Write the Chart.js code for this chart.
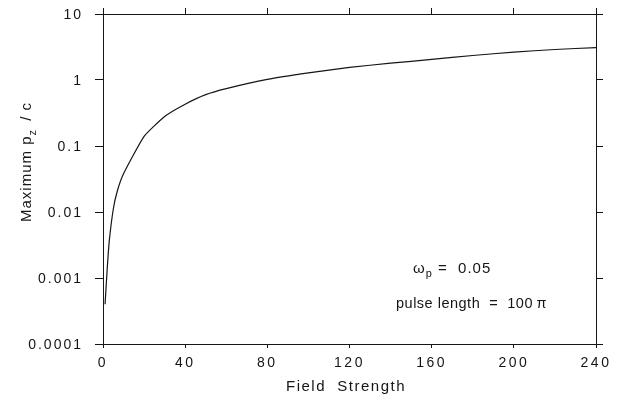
<!DOCTYPE html>
<html>
<head>
<meta charset="utf-8">
<script src="https://cdn.jsdelivr.net/npm/chart.js@4.4.1/dist/chart.umd.min.js"></script>
<style>
  html, body { margin: 0; padding: 0; background: #fff; }
  #wrap { width: 618px; height: 404px; }
</style>
</head>
<body>
<div id="wrap"><canvas id="momentum"></canvas></div>
<script>
"use strict";

// values
const fieldStrength = [1, 2, 3, 5, 7, 10, 20, 30, 40, 50, 60, 80, 100, 120, 140, 160, 180, 200, 220, 240];
const maxMomentum = [0.0004, 0.0013, 0.0035, 0.011, 0.021, 0.038, 0.14, 0.28, 0.43, 0.6, 0.74, 1.02, 1.28, 1.55, 1.8, 2.05, 2.35, 2.65, 2.9, 3.1];

const xTicks = [0, 40, 80, 120, 160, 200, 240];
const yTicks = [0.0001, 0.001, 0.01, 0.1, 1, 10];
const yTickLabels = ["0.0001", "0.001", "0.01", "0.1", "1", "10"];

const ink = "#151515";
const fontFamily = '"Liberation Sans", Arial, Helvetica, sans-serif';

Chart.defaults.font.family = fontFamily;
Chart.defaults.font.size = 14;
Chart.defaults.color = ink;

function decadeTicks(scale) {
  scale.ticks = yTicks.map((v) => ({ value: v }));
}

// wider tracking like the scanned figure (x tick labels)
const tracking = {
  id: "tracking",
  beforeDraw(chart) {
    chart.ctx.letterSpacing = "2.5px";
  },
};

// y tick labels, axis titles with subscripts, the annotation
const labels = {
  id: "labels",
  afterDraw(chart) {
    const ctx = chart.ctx;
    const yScale = chart.scales.y;
    ctx.save();
    ctx.fillStyle = ink;

    // y tick labels, right edge at a fixed gap from the tick marks
    ctx.letterSpacing = "2px";
    ctx.font = "14px " + fontFamily;
    ctx.textAlign = "left";
    ctx.textBaseline = "middle";
    yScale.ticks.forEach((t, i) => {
      const label = yTickLabels[i];
      const w = ctx.measureText(label).width - 2;
      ctx.fillText(label, yScale.right - 22 - w, yScale.getPixelForValue(t.value) + 1);
    });

    ctx.textBaseline = "alphabetic";

    // y title, rotated
    ctx.save();
    ctx.translate(31, 162);
    ctx.rotate(-Math.PI / 2);
    ctx.letterSpacing = "1px";
    const a = "Maximum p", b = "z", c = " / c";
    ctx.font = "15px " + fontFamily;
    const wa = ctx.measureText(a).width;
    const wc = ctx.measureText(c).width;
    ctx.font = "11px " + fontFamily;
    const wb = ctx.measureText(b).width;
    let x = -(wa + wb + wc + 3) / 2;
    ctx.font = "15px " + fontFamily;
    ctx.fillText(a, x, 0);
    x += wa;
    ctx.font = "11px " + fontFamily;
    ctx.fillText(b, x, 5);
    x += wb + 3;
    ctx.font = "15px " + fontFamily;
    ctx.fillText(c, x, 0);
    ctx.restore();

    // x title
    ctx.letterSpacing = "1.5px";
    ctx.font = "15px " + fontFamily;
    ctx.textAlign = "center";
    ctx.fillText("Field  Strength", 346, 391);

    // annotation
    ctx.textAlign = "left";
    ctx.letterSpacing = "1px";
    ctx.font = "15px " + fontFamily;
    ctx.fillText("\u03c9", 413, 273);
    const wo = ctx.measureText("\u03c9").width;
    ctx.font = "11px " + fontFamily;
    ctx.fillText("p", 413 + wo, 277);
    const wp = ctx.measureText("p").width;
    ctx.font = "15px " + fontFamily;
    ctx.fillText(" =  0.05", 413 + wo + wp, 273);
    ctx.letterSpacing = "0.5px";
    ctx.font = "14.5px " + fontFamily;
    ctx.fillText("pulse length  =  100\u2009\u03c0", 396, 308);

    ctx.restore();
  },
};

const axisBorder = { display: true, color: ink, width: 1 };

const config = {
  type: "line",
  data: {
    datasets: [
      {
        label: "Maximum pz/c",
        data: fieldStrength.map((f, i) => ({ x: f, y: maxMomentum[i] })),
        borderColor: ink,
        borderWidth: 1.2,
        pointRadius: 0,
        tension: 0.15,
        fill: false,
      },
    ],
  },
  options: {
    responsive: false,
    animation: false,
    layout: { padding: { left: 0, top: 14, right: 22, bottom: 0 } },
    plugins: { legend: { display: false }, tooltip: { enabled: false } },
    scales: {
      x: {
        type: "linear",
        position: "bottom",
        min: 0,
        max: 240,
        afterBuildTicks: (s) => { s.ticks = xTicks.map((v) => ({ value: v })); },
        afterFit: (s) => { s.height = 60; },
        ticks: { padding: 7, maxRotation: 0, font: { size: 14 } },
        grid: { drawOnChartArea: false, tickLength: 4, color: ink },
        border: axisBorder,
      },
      x2: {
        type: "linear",
        position: "top",
        min: 0,
        max: 240,
        afterBuildTicks: (s) => { s.ticks = xTicks.map((v) => ({ value: v })); },
        afterFit: (s) => { s.height = 0; },
        ticks: { display: false },
        grid: { drawOnChartArea: false, tickLength: 6, color: ink },
        border: axisBorder,
      },
      y: {
        type: "logarithmic",
        position: "left",
        min: 0.0001,
        max: 10,
        afterBuildTicks: decadeTicks,
        afterFit: (s) => {
          s.width = 103;
          s.paddingTop = 0;
          s.paddingBottom = 0;
        },
        ticks: { display: false },
        grid: { drawOnChartArea: false, tickLength: 8, color: ink },
        border: axisBorder,
      },
      y2: {
        type: "logarithmic",
        position: "right",
        min: 0.0001,
        max: 10,
        afterBuildTicks: decadeTicks,
        afterFit: (s) => { s.width = 0; },
        ticks: { display: false },
        grid: { drawOnChartArea: false, tickLength: 7, color: ink },
        border: axisBorder,
      },
    },
  },
  plugins: [tracking, labels],
};

const canvas = document.getElementById("momentum");
canvas.width = 618;
canvas.height = 404;
new Chart(canvas.getContext("2d"), config);
</script>
</body>
</html>
